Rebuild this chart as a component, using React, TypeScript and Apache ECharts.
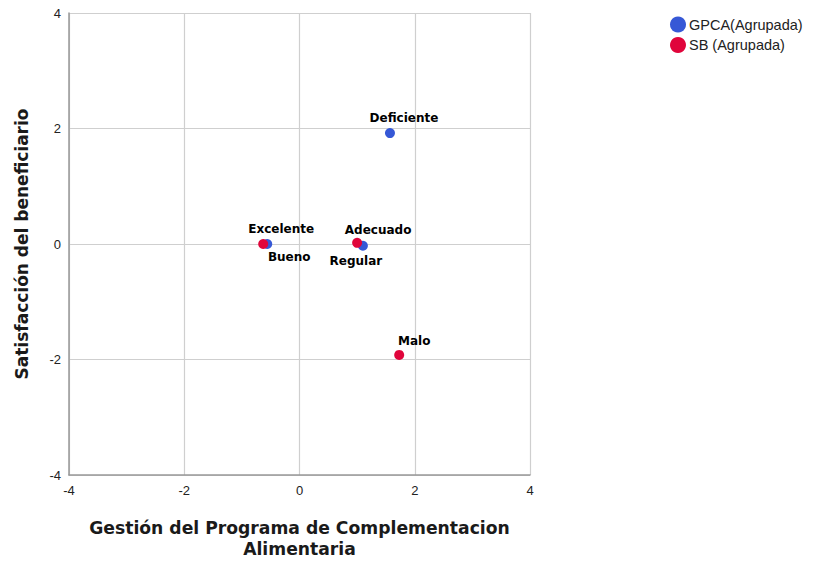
import React, { useEffect, useRef } from "react";
import * as echarts from "echarts";

const gpcaNames = ["Deficiente", "Bueno", "Regular"];
const gpcaX = [1.57, -0.56, 1.1];
const gpcaY = [1.92, 0.0, -0.03];
const gpcaOffsets = [[14, -15], [22, 13], [-7, 15]];

const sbNames = ["Excelente", "Adecuado", "Malo"];
const sbX = [-0.63, 1.0, 1.73];
const sbY = [0.0, 0.02, -1.92];
const sbOffsets = [[18, -15], [21, -13], [15, -14]];

const FONT = "Liberation Sans, Arial, sans-serif";
const BOLD_FONT = "DejaVu Sans, Liberation Sans, sans-serif";

function build(names: string[], xs: number[], ys: number[], offs: number[][]) {
  return names.map((n, i) => ({
    name: n,
    value: [xs[i], ys[i]],
    label: { offset: offs[i] },
  }));
}

export default function App() {
  const ref = useRef<HTMLDivElement>(null);
  useEffect(() => {
    const chart = echarts.init(ref.current!, undefined, { renderer: "svg" });
    const labelBase = {
      show: true,
      position: "inside",
      formatter: "{b}",
      color: "#000",
      fontWeight: "bold",
      fontSize: 12,
      fontFamily: BOLD_FONT,
    };
    chart.setOption({
      animation: false,
      legend: {
        orient: "vertical",
        left: 670,
        top: 16.5,
        padding: 0,
        icon: "circle",
        itemWidth: 16,
        itemHeight: 16,
        itemGap: 4.5,
        textStyle: { fontSize: 14.5, color: "#222", fontFamily: FONT, padding: [0, 0, 0, -2] },
        data: ["GPCA(Agrupada)", "SB (Agrupada)"],
      },
      grid: { left: 69, right: 292, top: 13, bottom: 86, outerBoundsMode: "none", containLabel: false },
      xAxis: {
        type: "value",
        min: -4,
        max: 4,
        interval: 2,
        name: "Gestión del Programa de Complementacion\nAlimentaria",
        nameLocation: "middle",
        nameGap: 42,
        nameTextStyle: { fontSize: 17.2, fontWeight: "bold", color: "#1a1a1a", fontFamily: BOLD_FONT, lineHeight: 21 },
        axisLine: { show: true, onZero: false, lineStyle: { color: "#999", width: 1.5 } },
        axisTick: { show: false },
        axisLabel: { fontSize: 13, color: "#222", fontFamily: FONT, margin: 9 },
        splitLine: { show: true, lineStyle: { color: "#cfcfcf", width: 1.2 } },
      },
      yAxis: {
        type: "value",
        min: -4,
        max: 4,
        interval: 2,
        name: "Satisfacción del beneficiario",
        nameLocation: "middle",
        nameGap: 39,
        nameTextStyle: { fontSize: 17, fontWeight: "bold", color: "#1a1a1a", fontFamily: BOLD_FONT },
        axisLine: { show: true, onZero: false, lineStyle: { color: "#999", width: 1.5 } },
        axisTick: { show: false },
        axisLabel: { fontSize: 13, color: "#222", fontFamily: FONT, margin: 8 },
        splitLine: { show: true, lineStyle: { color: "#cfcfcf", width: 1.2 } },
      },
      series: [
        {
          name: "GPCA(Agrupada)",
          type: "scatter",
          symbolSize: 10,
          itemStyle: { color: "#3658d6", opacity: 1 },
          label: labelBase,
          data: build(gpcaNames, gpcaX, gpcaY, gpcaOffsets),
        },
        {
          name: "SB (Agrupada)",
          type: "scatter",
          symbolSize: 10,
          itemStyle: { color: "#e0053b", opacity: 1 },
          label: labelBase,
          data: build(sbNames, sbX, sbY, sbOffsets),
        },
      ],
    });
    return () => chart.dispose();
  }, []);
  return <div ref={ref} style={{ width: 822, height: 561, position: "absolute", left: 0, top: 0 }} />;
}
